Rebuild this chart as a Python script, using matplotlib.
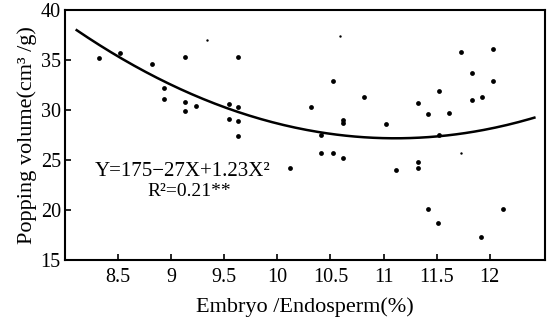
import numpy as np
import matplotlib
matplotlib.use("Agg")
import matplotlib.pyplot as plt

# Observed points (Embryo/Endosperm %, popping volume cm3/g)
embryo_ratio = [8.32, 8.52, 8.82, 9.13, 8.93, 8.93, 9.13, 9.13, 9.23, 9.54, 9.54,
                9.63, 9.63, 9.63, 9.63, 10.12, 10.32, 10.41, 10.41, 10.52, 10.52,
                10.62, 10.62, 10.62, 10.82, 11.02, 11.12, 11.32, 11.32, 11.32,
                11.42, 11.42, 11.52, 11.51, 11.52, 11.62, 11.73, 11.83, 11.83,
                11.93, 11.92, 12.03, 12.03, 12.12]
popping_volume = [35.2, 35.7, 34.6, 35.3, 32.2, 31.1, 30.8, 29.9, 30.4, 30.6, 29.1,
                  35.3, 30.3, 28.9, 27.4, 24.2, 30.3, 27.5, 25.7, 25.7, 32.9,
                  29.0, 28.7, 25.2, 31.3, 28.6, 24.0, 30.7, 24.8, 24.2,
                  29.6, 20.1, 31.9, 18.7, 27.5, 29.7, 35.8, 33.7, 31.0,
                  31.3, 17.3, 36.1, 32.9, 20.1]
# faint small points
small_ratio = [9.34, 10.59, 11.73]
small_volume = [37.0, 37.4, 25.7]

# Regression curve
curve_x = [8.11, 8.52, 8.89, 9.21, 9.54, 9.77, 10.12, 10.40, 10.71, 10.96, 11.06,
           11.53, 11.90, 12.37, 12.42]
curve_y = [37.9, 35.5, 33.2, 31.3, 30.0, 29.3, 28.2, 27.6, 27.4, 27.35, 27.4,
           27.5, 28.0, 28.8, 29.3]

x_ticks = [8.5, 9, 9.5, 10, 10.5, 11, 11.5, 12]
x_tick_labels = ["8.5", "9", "9.5", "10", "10.5", "11", "11.5", "12"]
y_ticks = [15, 20, 25, 30, 35, 40]

equation_text = "Y=175\u221227X+1.23X\u00b2"
r2_text = "R\u00b2=0.21**"

plt.rcParams['font.family'] = ['Liberation Serif', 'DejaVu Serif']

fig = plt.figure(figsize=(5.52, 3.26), dpi=100)
ax = fig.add_axes([65/552, 1-260/326, 480/552, 250/326])

coef = np.polyfit(curve_x, curve_y, 2)
xs = np.linspace(curve_x[0], curve_x[-1], 200)
ax.plot(xs, np.polyval(coef, xs), color='black', lw=1.8)

ax.scatter(embryo_ratio, popping_volume, s=12, color='black', zorder=3, linewidths=0)
ax.scatter(small_ratio, small_volume, s=3, color='black', zorder=3, linewidths=0)

ax.set_xlim(8.0, 12.52)
ax.set_ylim(15, 40)
ax.set_xticks(x_ticks)
ax.set_xticklabels(x_tick_labels)
ax.set_yticks(y_ticks)
ax.tick_params(direction='in', length=4, width=1.2, labelsize=14.5, pad=3)
ax.tick_params(axis='x', pad=6)
for s in ax.spines.values():
    s.set_linewidth(1.5)

ax.set_xlabel("Embryo /Endosperm(%)", fontsize=16, labelpad=7)
ax.set_ylabel("Popping volume(cm\u00b3 /g)", fontsize=16, labelpad=3)

ax.text(8.28, 23.9, equation_text, fontsize=15, ha='left', va='center')
ax.text(8.78, 21.8, r2_text, fontsize=14, ha='left', va='center')

fig.savefig("out.png", dpi=100)
